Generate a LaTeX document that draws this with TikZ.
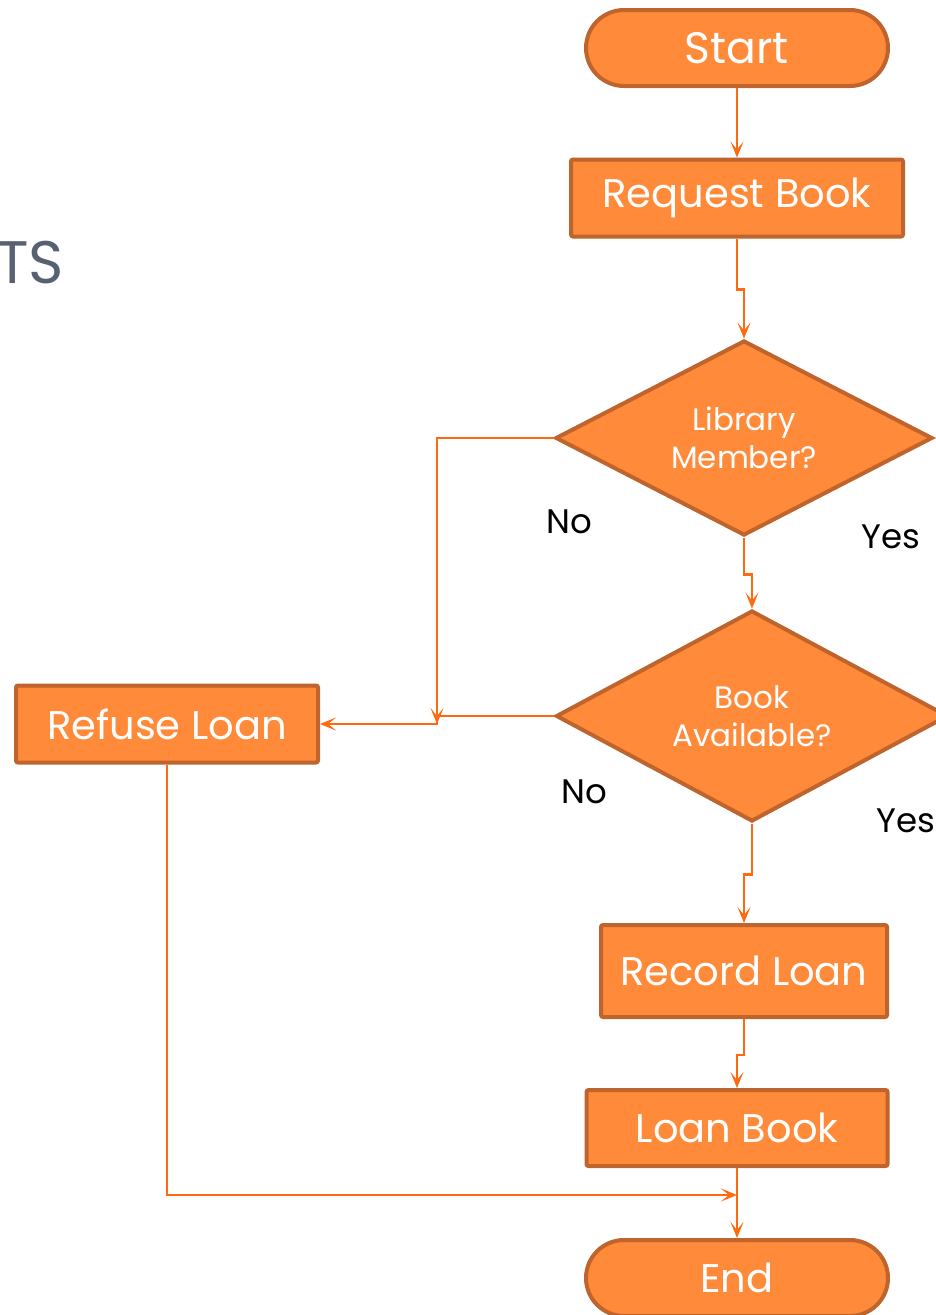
\documentclass[tikz,border=0pt]{standalone}
\usepackage{fontspec}
\setmainfont{Poppins}
\usetikzlibrary{shapes.geometric,arrows.meta}
\definecolor{boxfill}{HTML}{FF8A3A}
\definecolor{boxline}{HTML}{BF642C}
\definecolor{connc}{HTML}{FF6A10}
\definecolor{titlegray}{HTML}{586171}
\tikzset{
  bigtext/.style={font=\fontsize{40}{44}\selectfont, text=white},
  smalltext/.style={font=\fontsize{31}{38}\selectfont, text=white, align=center},
  terminal/.style={draw=boxline, fill=boxfill, line width=4pt, rounded corners=38pt,
    minimum width=302pt, minimum height=76pt, inner sep=0pt, bigtext},
  procbox/.style={draw=boxline, fill=boxfill, line width=4pt, rounded corners=2pt,
    minimum height=77pt, inner sep=0pt, bigtext},
  decision/.style={diamond, draw=boxline, fill=boxfill, line width=4pt, inner sep=0pt,
    aspect=2, smalltext},
  conn/.style={draw=connc, line width=2.2pt,
    -{Stealth[length=16pt,width=13pt,inset=8pt]}},
  lbl/.style={font=\fontsize{34}{38}\selectfont, text=black, inner sep=0pt}
}
\begin{document}
\begin{tikzpicture}[x=1pt,y=-1pt]
\useasboundingbox (0,0) rectangle (936,1315);
\clip (0,0) rectangle (936,1315);
\node[font=\fontsize{60}{64}\selectfont, text=titlegray, anchor=base east, inner sep=0pt] (title) at (64,283) {TS};

\node[terminal, font=\fontsize{44}{48}\selectfont] (start) at (737,48) {Start};
\node[procbox, minimum width=332pt] (req) at (737,198) {Request Book};
\node[decision, minimum width=377pt, minimum height=195pt] (d1) at (744,438) {Library\\Member?};
\node[decision, minimum width=392pt, minimum height=211pt] (d2) at (752,716) {Book\\Available?};
\node[procbox, minimum width=302pt] (refuse) at (167,724) {Refuse Loan};
\node[procbox, minimum width=286pt, minimum height=92pt] (rec) at (744,971) {Record Loan};
\node[procbox, minimum width=301pt, minimum height=76pt] (loan) at (737,1128) {Loan Book};
\node[terminal] (end) at (737,1278) {End};

\node[lbl] (no1) at (569,522) {No};
\node[lbl] (yes1) at (891,537) {Yes};
\node[lbl] (no2) at (584,792) {No};
\node[lbl] (yes2) at (906,821) {Yes};

\coordinate (m) at (437,724);
\coordinate (j) at (737,1195);

\draw[conn] (start) -- (req);
\draw[conn] (req.south) -- ++(0,51) -| (d1.north);
\draw[conn] (d1.south) -- ++(0,37) -| (d2.north);
\draw[conn] (d1.west) -| (m);
\draw[conn] (d2.west) -| (m) -- (refuse.east);
\draw[conn] (d2.south) -- ++(0,51) -| (rec.north);
\draw[conn] (rec.south) -- ++(0,36) -| (loan.north);
\draw[conn] (refuse.south) |- (j);
\draw[conn] (loan.south) -- (end.north);
\end{tikzpicture}
\end{document}
